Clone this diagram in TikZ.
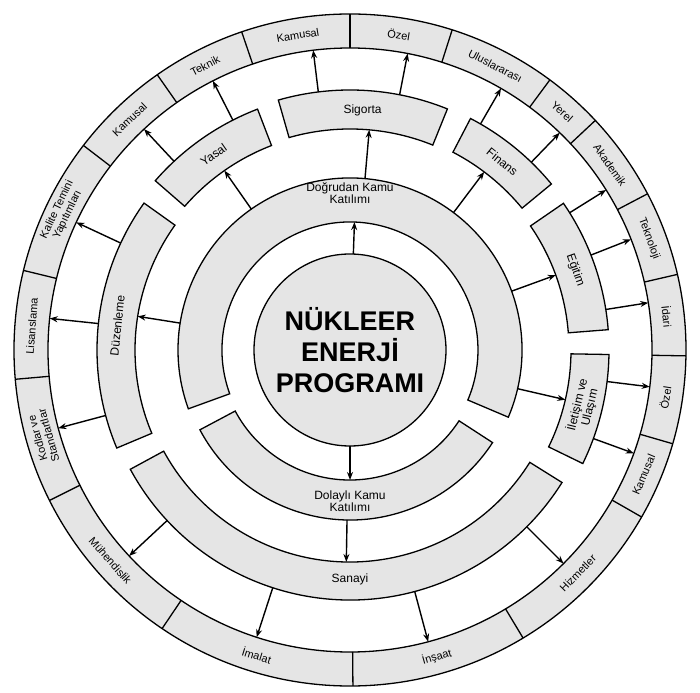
\documentclass[tikz,border=0pt]{standalone}
\usepackage{fontspec}
\setmainfont{Liberation Sans}
\usetikzlibrary{arrows.meta}
\newcommand\sect[4]{(#3:#2) arc[start angle=#3,end angle=#4,radius=#2] -- (#4:#1) arc[start angle=#4,end angle=#3,radius=#1] -- cycle}
\begin{document}
\begin{tikzpicture}[x=1pt,y=1pt,
  box/.style={draw=black,line width=1.3pt,fill=black!10},
  lab/.style={font=\fontsize{12}{12.5}\selectfont,align=center,inner sep=0pt},
  olab/.style={font=\fontsize{11}{11.5}\selectfont,align=center,inner sep=0pt},
  arr/.style={-{Stealth[length=8pt,width=6pt]},line width=1.4pt}]
\useasboundingbox (-350,-342) rectangle (350,350);
% outer ring
\fill[black!10] (0,0) circle[radius=336];
\fill[white] (0,0) circle[radius=302];
\draw[line width=1.3pt] (0,0) circle[radius=336] (0,0) circle[radius=302];
\foreach \a in {90,108.8,125,142.5,166.3,185,206.6,236,270.5,301,330.2,343.8,359,13,27.7,43.1,53.5,72.3}
  \draw[line width=1.3pt] (\a:302) -- (\a:336);
% outer labels
\foreach \a/\t/\n in {99.4/Kamusal/o1,117/Teknik/o2,133.7/Kamusal/o3,154.4/{Kalite Temini\\Yapıtımları}/o4,175.7/Lisanslama/o5,195.8/{Kodlar ve\\Standartlar}/o6,6/İdari/o7,20.4/Teknoloji/o8,35.4/Akademik/o9,48.3/Yerel/o10,62.9/Uluslararası/o11,81.2/Özel/o12}
  \node[olab,rotate=\a-90] (\n) at (\a:319) {\t};
\foreach \a/\t/\n in {221.3/Mühendislik/o13,253/İmalat/o14,285.8/İnşaat/o15,315.6/Hizmetler/o16,337/Kamusal/o17,351.4/Özel/o18}
  \node[olab,rotate=\a+90] (\n) at (\a:319) {\t};
% center
\node[box,circle,minimum size=192pt,inner sep=0pt,align=center,font=\fontsize{27}{31}\selectfont\bfseries] (c) at (0,0) {NÜKLEER\\ENERJİ\\PROGRAMI};
% inner bands
\draw[box] \sect{128}{172}{-23}{200};
\draw[box] \sect{130}{170}{208}{327};
\node[lab] (dog) at (0,157) {Doğrudan Kamu\\Katılımı};
\node[lab] (dol) at (0,-151) {Dolaylı Kamu\\Katılımı};
% middle ring boxes
\draw[box] \sect{212}{250}{208.5}{328};
\draw[box] \sect{215}{253}{144.5}{202.8};
\draw[box] \sect{219}{258}{111}{139};
\draw[box] \sect{221}{260}{68}{106};
\draw[box] \sect{223}{261}{39.5}{62.5};
\draw[box] \sect{219}{259}{4.5}{34.5};
\draw[box] \sect{221}{259}{-26}{-1};
\node[lab] (san) at (270:229) {Sanayi};
\node[lab,rotate=84] (duz) at (174:234) {Düzenleme};
\node[lab,rotate=35] (yas) at (125:238) {Yasal};
\node[lab] (sig) at (87:240) {Sigorta};
\node[lab,rotate=-39] (fin) at (51:242) {Finans};
\node[lab,rotate=-70.5] (egi) at (19.5:239) {Eğitim};
\node[lab,rotate=76.5] (ile) at (-13.5:240) {İletişim ve\\Ulaşım};
% arrows
\foreach \a/\r/\s in {88/96/128,270/96/130,85/172/221,79/260/302,97/260/302,125/172/219,117/258/302,133/258/302,53/172/223,60/261/302,46/261/302,20/172/219,32/259/302,21.5/259/302,9/259/302,-13/172/221,-7/259/302,-20/259/302,171/172/215,155/253/302,174/253/302,195/253/302,269/170/212,223/250/302,252/250/302,285/250/302,315/250/302}
  \draw[arr] (\a:\r) -- (\a:\s);
\end{tikzpicture}
\end{document}
